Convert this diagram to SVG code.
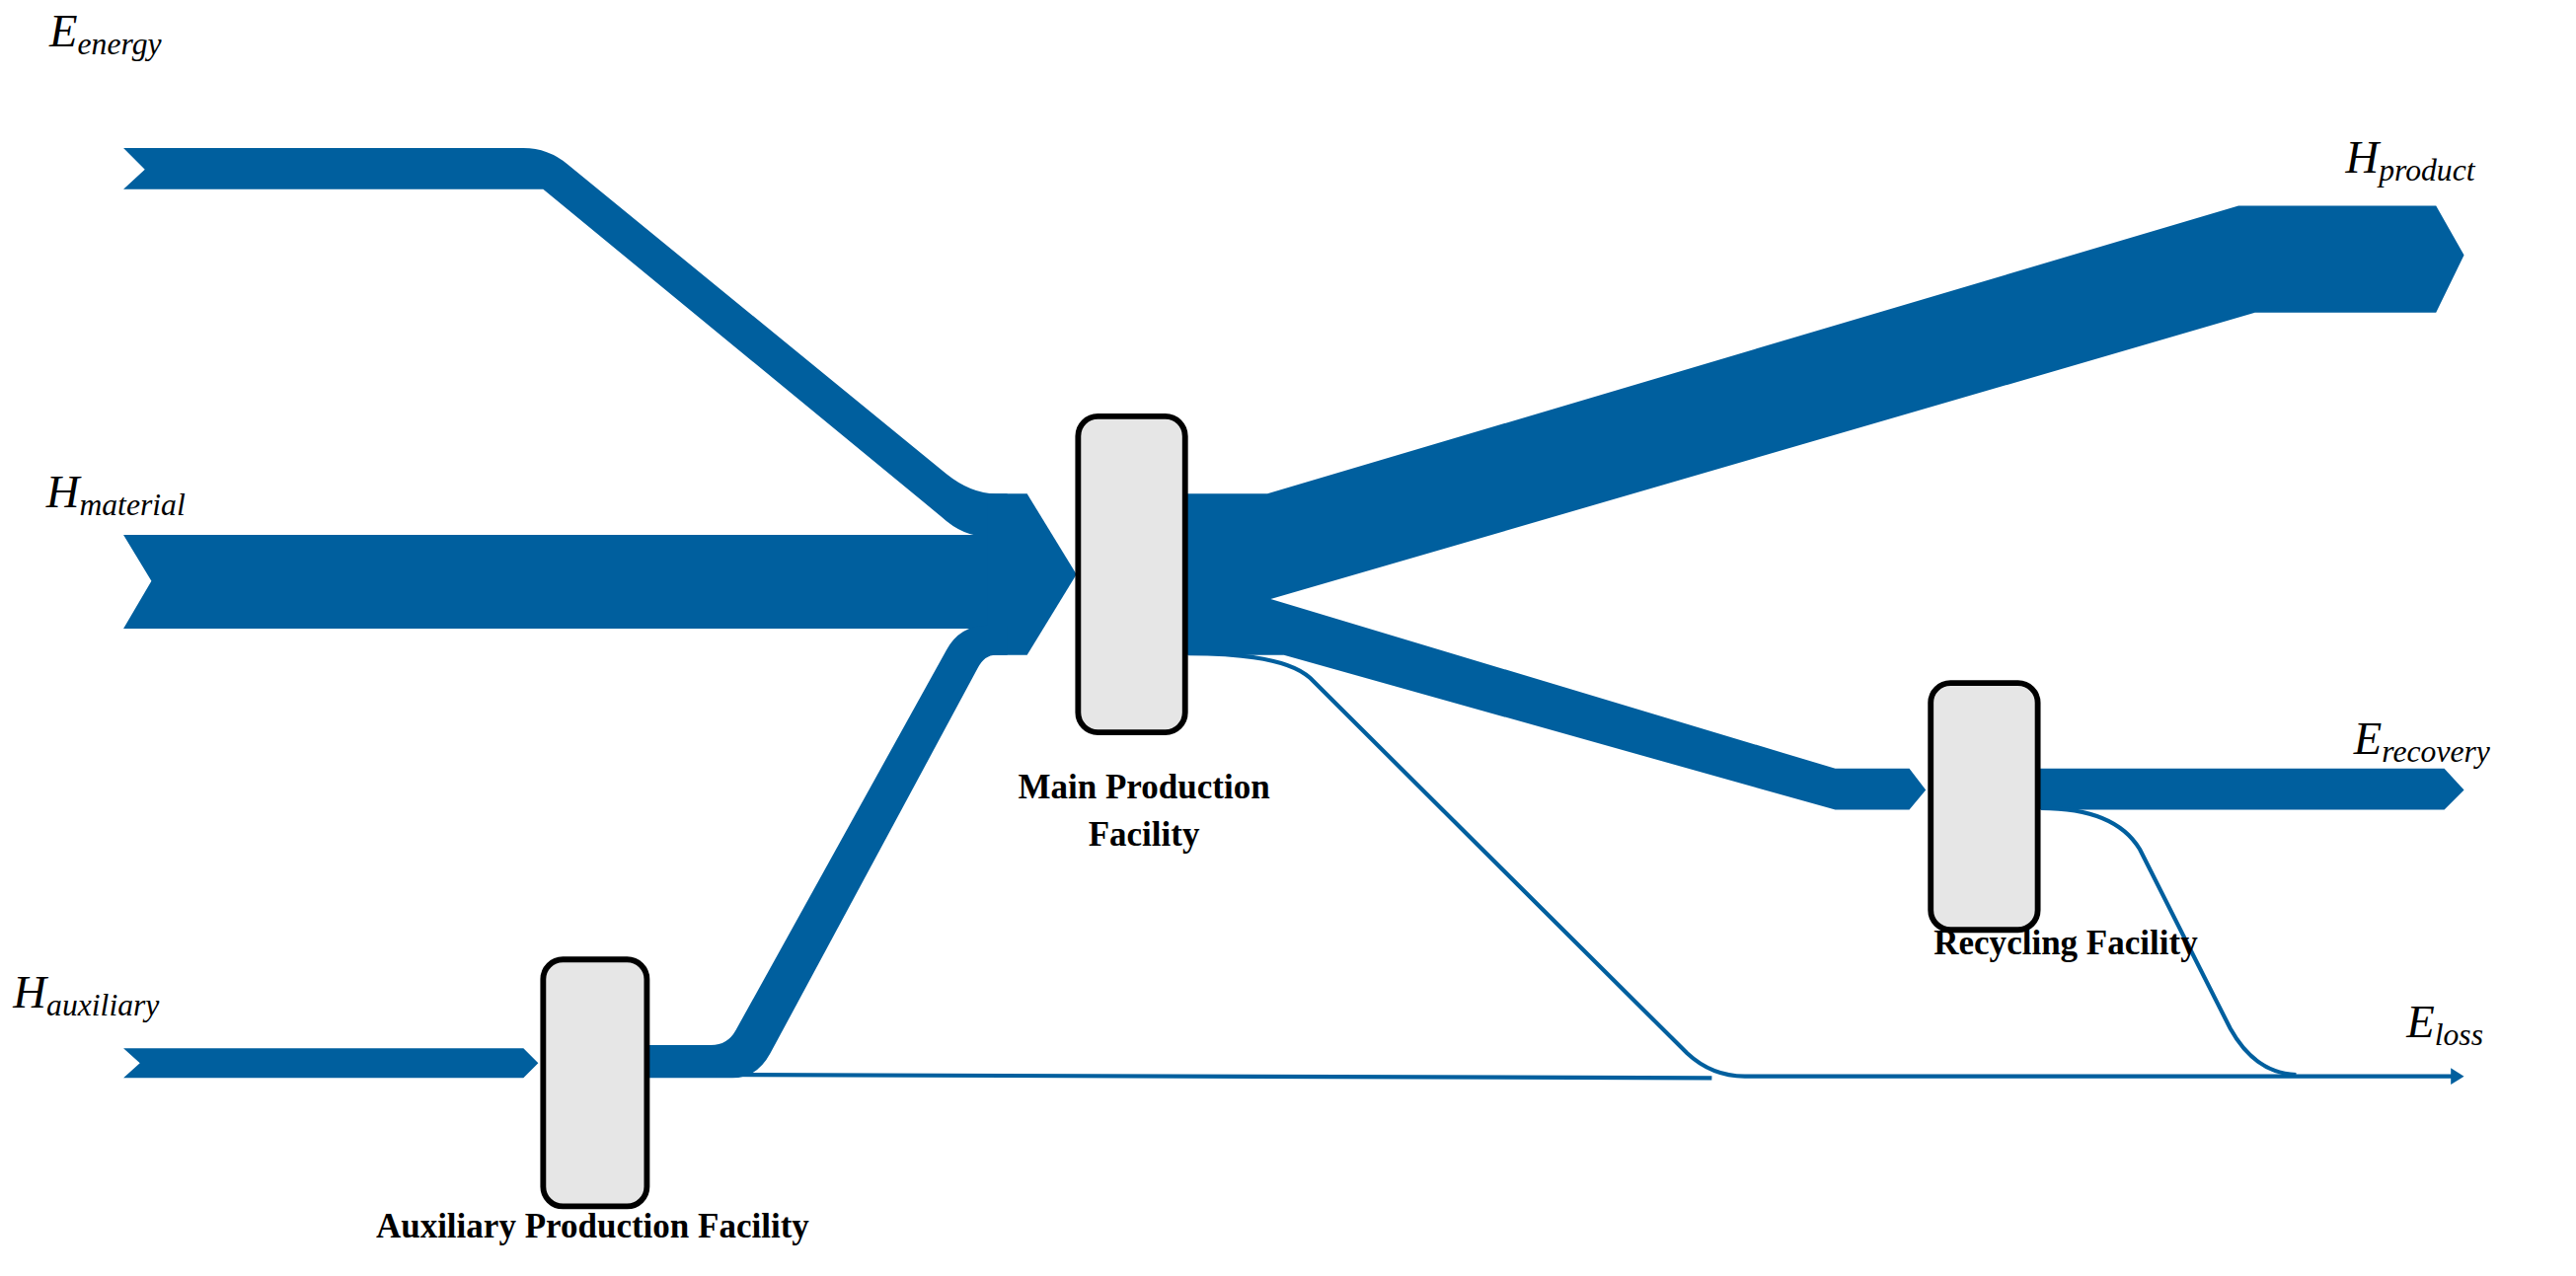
<svg xmlns="http://www.w3.org/2000/svg" width="2610" height="1293" viewBox="0 0 2610 1293">
<style>
.f{fill:#005f9e}
.t{fill:none;stroke:#005f9e;stroke-width:2.5}
.box{fill:#e6e6e6;stroke:#000;stroke-width:3.5}
.lab{font-family:"Liberation Serif",serif;font-style:italic;font-size:28px;fill:#000}
.sub{font-size:19px}
.nm{font-family:"Liberation Serif",serif;font-weight:bold;font-size:21px;fill:#000;text-anchor:middle}
</style>
<rect width="2610" height="1293" fill="#fff"/>
<g transform="scale(1.6677)">
<g id="connectors">
<path class="f" d="M75,90 L318,90 Q333,90 345,100 L575,288 Q590,300 605,300 L612,300 L612,326 L600,326 Q585,326 572,314 L330,115 L75,115 L88,103 Z"/>
<path class="f" d="M75,325 L612,325 L612,382 L75,382 L92,353 Z"/>
<path class="f" d="M600,300 L624,300 L654,349 L624,398 L600,398 Z"/>
<path class="f" d="M75,637 L318,637 L327,646 L318,655 L75,655 L85,646 Z"/>
<path class="f" d="M393,635 L432,635 Q442,635 447,626 L575,395 Q583,380 600,380 L612,380 L612,398 L605,398 Q598,398 594,406 L468,640 Q460,655 445,655 L393,655 Z"/>
<path class="t" d="M435,653 L1040,655"/>
<path class="f" d="M720,300 L770,300 L1360,125 L1480,125 L1497,155 L1480,190 L1370,190 L772,364 L1115,467 L1160,467 L1170,480 L1160,492 L1115,492 L780,398 L720,398 Z"/>
<path class="t" d="M722,397 Q780,397 796,412 L1025,640 Q1040,654 1060,654 L1490,654"/>
<path class="f" d="M1489,649 L1497,654 L1489,659 Z"/>
<path class="f" d="M1238,467 L1485,467 L1497,480 L1485,492 L1238,492 Z"/>
<path class="t" d="M1240,491 Q1285,491 1300,516 L1355,625 Q1370,652 1395,653"/>
</g>
<g id="main"><rect class="box" x="655" y="253" width="65" height="192" rx="12"/>
<text class="nm" x="695" y="485">Main Production</text><text class="nm" x="695" y="514">Facility</text></g>
<g id="recycling"><rect class="box" x="1173" y="415" width="65" height="150" rx="12"/>
<text class="nm" x="1255" y="580">Recycling Facility</text></g>
<g id="auxiliary"><rect class="box" x="330" y="583" width="63" height="150" rx="12"/>
<text class="nm" x="360" y="752">Auxiliary  Production Facility</text></g>
<g id="labels">
<text class="lab" x="30" y="28">E<tspan class="sub" dy="5">energy</tspan></text>
<text class="lab" x="28" y="308">H<tspan class="sub" dy="5">material</tspan></text>
<text class="lab" x="8" y="612">H<tspan class="sub" dy="5">auxiliary</tspan></text>
<text class="lab" x="1425" y="105">H<tspan class="sub" dy="5">product</tspan></text>
<text class="lab" x="1430" y="458">E<tspan class="sub" dy="5">recovery</tspan></text>
<text class="lab" x="1462" y="630">E<tspan class="sub" dy="5">loss</tspan></text>
</g>
</g>
</svg>
